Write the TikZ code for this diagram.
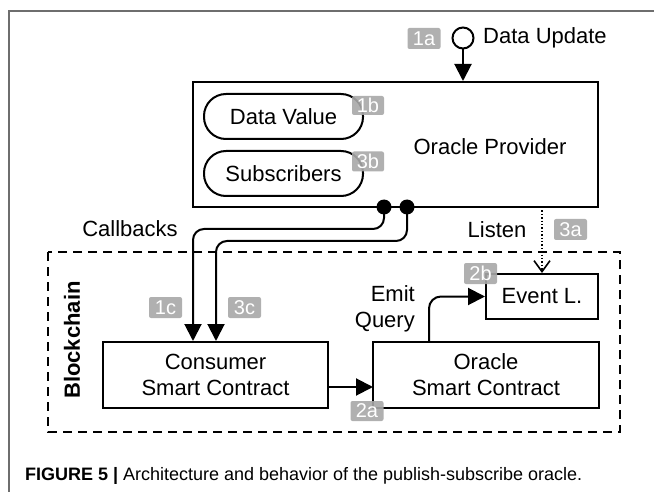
\documentclass[tikz,border=0pt]{standalone}
\usepackage{fontspec}
\setmainfont{Liberation Sans}
\usepackage{graphicx}
\usetikzlibrary{arrows.meta,calc}
\definecolor{tagc}{HTML}{A8A8A8}
\definecolor{framec}{HTML}{6E6E6E}
\tikzset{
  main/.style={font=\fontsize{22}{26}\selectfont},
  boxx/.style={draw, line width=2pt, inner sep=0pt, main, align=center},
  pill/.style={boxx, rounded corners=22pt, minimum width=159pt, minimum height=45pt},
  tag/.style={fill=tagc, fill opacity=0.9, text opacity=1, text=white, rounded corners=2pt,
    minimum width=33pt, minimum height=21pt, inner sep=0pt, font=\fontsize{20}{20}\selectfont},
  lbl/.style={inner sep=0pt, main},
  arr/.style={line width=2pt, -{Triangle[length=17pt,width=17pt]}},
  dotc/.style={circle, fill=black, inner sep=0pt, minimum size=15pt},
  dashbox/.style={line width=2pt, dash pattern=on 9pt off 6pt}
}
\begin{document}
\begin{tikzpicture}[x=1pt,y=-1pt]
\useasboundingbox (0,0) rectangle (654,492);
\fill[white] (0,0) rectangle (654,492);
% frame
\draw[framec, line width=1.3pt] (654,11) -- (9,11) -- (9,492);

% oracle provider
\node[boxx, minimum width=405pt, minimum height=125pt] (op) at (395.5,144.5) {};
\node[lbl] (optext) at (490,147) {Oracle Provider};
\node[pill] (dv) at (283.5,116.5) {Data Value};
\node[pill] (sub) at (283.5,173.5) {Subscribers};
\node[tag, minimum width=32pt, minimum height=19pt] (t1b) at (368,105.5) {1b};
\node[tag, minimum width=32pt, minimum height=20pt] (t3b) at (368,161.5) {3b};

% data update
\node[circle, draw, line width=2pt, minimum size=21pt, inner sep=0pt] (upd) at (463,38) {};
\node[tag] (t1a) at (424,38.5) {1a};
\node[lbl, anchor=west] (updtext) at (483,38) {Data Update};
\draw[arr] (upd.south) -- (upd.south |- op.north);

% blockchain
\draw[dashbox] (48,252) rectangle (620,432);
\node[lbl, rotate=90, font=\fontsize{22}{26}\selectfont\bfseries] (bc) at (72,340) {Blockchain};

\node[boxx, minimum width=225pt, minimum height=66pt] (cons) at (215.5,375) {Consumer\\Smart Contract};
\node[boxx, minimum width=226pt, minimum height=66pt] (osc) at (486,375) {Oracle\\Smart Contract};
\node[boxx, minimum width=112pt, minimum height=45pt] (ev) at (542,296.5) {Event L.};

% callbacks
\node[dotc] (d1) at (384,207) {};
\node[dotc] (d2) at (407,207) {};
\coordinate (c1) at (193,229);
\coordinate (c2) at (216,241);
\draw[arr, rounded corners=11pt] (d1.center) |- (c1) -- (c1 |- cons.north);
\draw[arr, rounded corners=11pt] (d2.center) |- (c2) -- (c2 |- cons.north);
\node[lbl] (cbtext) at (130,229) {Callbacks};
\node[tag] (t1c) at (165.5,307.5) {1c};
\node[tag] (t3c) at (244.5,307.5) {3c};

% listen
\coordinate (ls) at (542,207);
\draw[line width=1.4pt, dash pattern=on 1.4pt off 2pt, -{Straight Barb[length=11pt,width=16pt,line width=1.6pt]}] (ls) -- (ev.north);
\node[lbl] (lstext) at (497,230) {Listen};
\node[tag] (t3a) at (570.5,229.5) {3a};

% emit query
\coordinate (eq) at (429,342);
\draw[arr, rounded corners=12pt] (eq) |- (ev.west);
\node[lbl, anchor=east, align=right] (eqtext) at (415,309) {Emit\\Query};
\node[tag] (t2b) at (480.5,273.5) {2b};

% consumer -> oracle
\coordinate (ca) at (328,387);
\coordinate (cb) at (373,387);
\draw[arr] (ca) -- (cb);
\node[tag, minimum height=20pt] (t2a) at (367,411) {2a};

% caption
\node[anchor=west, inner sep=0pt] (cap) at (25,476) {\resizebox{557pt}{\height}{\fontsize{18}{20}\selectfont\textbf{FIGURE 5 |} Architecture and behavior of the publish-subscribe oracle.}};
\end{tikzpicture}
\end{document}
